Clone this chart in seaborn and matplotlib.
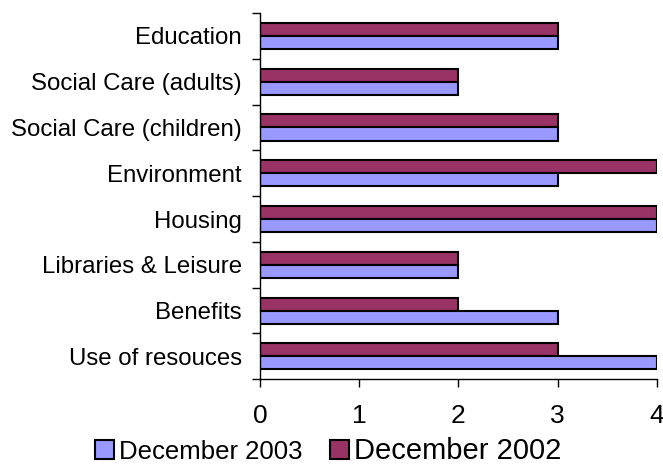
import matplotlib
matplotlib.use("Agg")
import matplotlib.pyplot as plt
import seaborn as sns
import pandas as pd
from matplotlib.patches import Patch

categories = ["Education", "Social Care (adults)", "Social Care (children)", "Environment",
              "Housing", "Libraries & Leisure", "Benefits", "Use of resouces"]
dec2003 = [3, 2, 3, 3, 4, 2, 3, 4]
dec2002 = [3, 2, 3, 4, 4, 2, 2, 3]
series = ["December 2003", "December 2002"]
colors = {"December 2003": "#9999FF", "December 2002": "#993366"}
xticks = [0, 1, 2, 3, 4]

df = pd.DataFrame({
    "category": categories * 2,
    "value": dec2003 + dec2002,
    "series": [series[0]] * len(categories) + [series[1]] * len(categories),
})

sns.set_style("white")
plt.rcParams["font.family"] = ["Liberation Sans", "DejaVu Sans"]
plt.rcParams["text.color"] = "black"
plt.rcParams["xtick.color"] = "black"
plt.rcParams["ytick.color"] = "black"

fig = plt.figure(figsize=(6.63, 4.67), dpi=100)
ax = fig.add_axes([0.392, 0.188, 0.599, 0.784])
sns.barplot(data=df, y="category", x="value", hue="series", order=categories,
            hue_order=["December 2002", "December 2003"], palette=colors,
            orient="h", width=0.57, edgecolor="black", linewidth=1.5, saturation=1,
            ax=ax, legend=False)

ax.set_xlim(0, 4)
ax.set_ylim(len(categories) - 0.5, -0.5)
ax.set_xticks(xticks)
ax.set_xticklabels([str(t) for t in xticks], fontsize=19)
ax.set_yticks(range(len(categories)))
ax.set_yticklabels(categories, fontsize=17.3)
ax.tick_params(axis="y", which="major", left=False, length=0, pad=13)
ax.set_yticks([i - 0.5 for i in range(len(categories) + 1)], minor=True)
ax.tick_params(axis="y", which="minor", left=True, length=6, width=1, color="black", direction="out")
ax.tick_params(axis="x", bottom=True, length=6, width=1, color="black", direction="out", pad=12)
ax.set_xlabel("")
ax.set_ylabel("")
for s in ["top", "right"]:
    ax.spines[s].set_visible(False)
for s in ["left", "bottom"]:
    ax.spines[s].set_color("black")
    ax.spines[s].set_linewidth(1)

handles = [Patch(facecolor=colors[s], edgecolor="black", linewidth=1.5) for s in series]
leg = fig.legend(handles, series, loc="center", bbox_to_anchor=(0.495, 0.035), ncol=2,
                 frameon=False, handlelength=0.75, handleheight=0.75, handletextpad=0.2,
                 columnspacing=1.05, fontsize=18.5, borderpad=0.1)
leg.get_texts()[1].set_fontsize(21)

fig.savefig("out.png", dpi=100)
